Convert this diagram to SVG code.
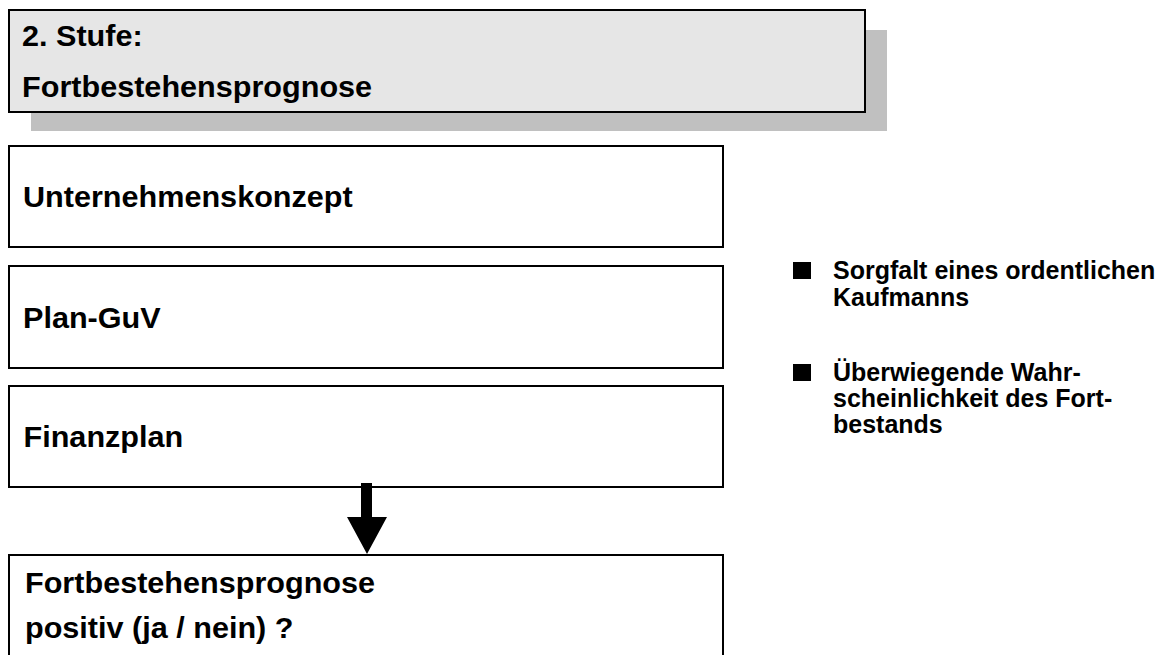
<svg xmlns="http://www.w3.org/2000/svg" width="1166" height="655" viewBox="0 0 1166 655">
  <style>
    .box { fill: #ffffff; stroke: #000000; stroke-width: 2; }
    .head { fill: #e6e6e6; stroke: #000000; stroke-width: 2; }
    .shadow { fill: #c0c0c0; }
    .lbl { font-family: "Liberation Sans", Arial, sans-serif; font-weight: bold; font-size: 29px; fill: #000000; }
    .side { font-family: "Liberation Sans", Arial, sans-serif; font-weight: bold; font-size: 25px; fill: #000000; }
  </style>
  <rect width="1166" height="655" fill="#ffffff"/>

  <!-- title panel with drop shadow -->
  <g id="stage-title">
    <rect class="shadow" x="31" y="30" width="856" height="101"/>
    <rect class="head" x="9" y="10" width="856" height="102"/>
    <text class="lbl" transform="scale(1.055,1)" x="20.9" y="46">2. Stufe:</text>
    <text class="lbl" transform="scale(1.055,1)" x="20.9" y="97">Fortbestehensprognose</text>
  </g>

  <g id="concept">
    <rect class="box" x="9" y="146" width="714" height="101"/>
    <text class="lbl" transform="scale(1.055,1)" x="21.8" y="207">Unternehmenskonzept</text>
  </g>

  <g id="plan-guv">
    <rect class="box" x="9" y="266" width="714" height="102"/>
    <text class="lbl" transform="scale(1.055,1)" x="21.8" y="328">Plan-GuV</text>
  </g>

  <g id="finanzplan">
    <rect class="box" x="9" y="386" width="714" height="101"/>
    <text class="lbl" transform="scale(1.055,1)" x="22.3" y="447">Finanzplan</text>
  </g>

  <g id="result">
    <rect class="box" x="9" y="555" width="714" height="110"/>
    <text class="lbl" transform="scale(1.055,1)" x="23.7" y="593">Fortbestehensprognose</text>
    <text class="lbl" transform="scale(1.055,1)" x="23.7" y="638">positiv (ja / nein) ?</text>
  </g>

  <!-- block arrow from the finance plan down to the result -->
  <g id="connectors">
    <path d="M361,483 H372 V517 H387 L367,554 L347,517 H361 Z" fill="#000000"/>
  </g>

  <!-- criteria list -->
  <g id="criteria">
    <rect x="793" y="262" width="18" height="17" fill="#000000"/>
    <text class="side" x="833" y="279">Sorgfalt eines ordentlichen</text>
    <text class="side" x="833" y="306">Kaufmanns</text>
    <rect x="793" y="364" width="18" height="17" fill="#000000"/>
    <text class="side" x="833" y="381">Überwiegende Wahr-</text>
    <text class="side" x="833" y="407">scheinlichkeit des Fort-</text>
    <text class="side" x="833" y="433">bestands</text>
  </g>
</svg>
